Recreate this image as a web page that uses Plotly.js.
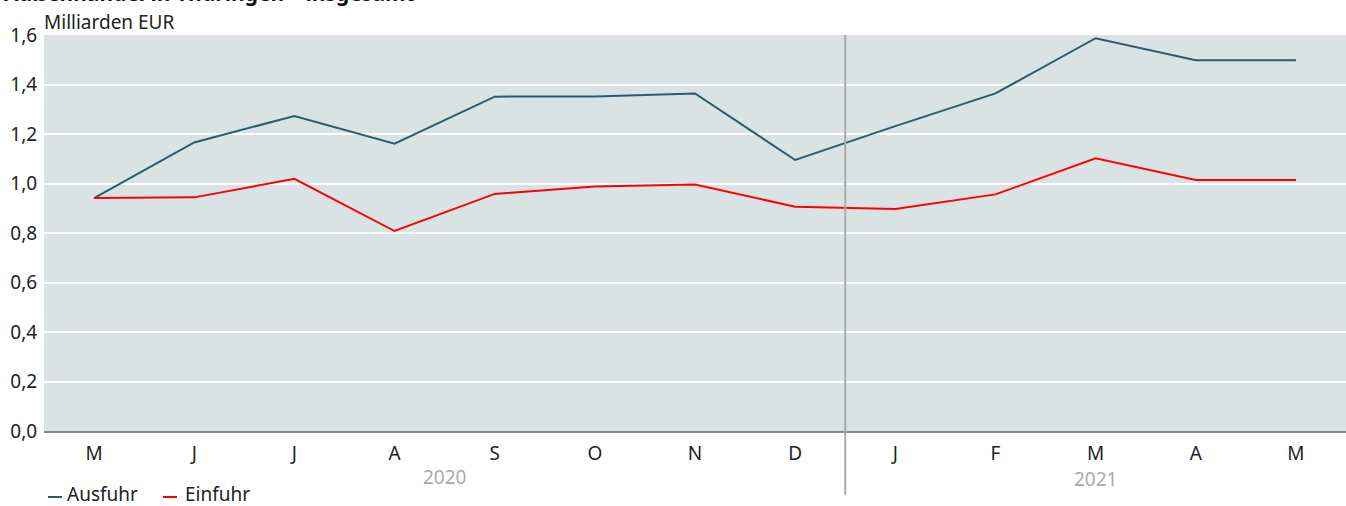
<!DOCTYPE html>
<html><head><meta charset="utf-8">
<script src="https://cdn.plot.ly/plotly-3.0.1.min.js"></script>
<style>html,body{margin:0;padding:0;background:#fff;}</style>
</head><body>
<div id="chart" style="width:1346px;height:506px;"></div>
<script>
const months = ["M","J","J","A","S","O","N","D","J","F","M","A","M"];
const ausfuhr = [0.941,1.166,1.273,1.161,1.351,1.352,1.364,1.095,1.232,1.364,1.587,1.498,1.498];
const einfuhr = [0.941,0.944,1.019,0.808,0.958,0.988,0.996,0.906,0.897,0.956,1.102,1.014,1.014];
const years = ["2020","2021"];
const yTicks = [0,0.2,0.4,0.6,0.8,1.0,1.2,1.4,1.6];
const xIdx = months.map((m,i)=>i);
const FONT = "Noto Sans, sans-serif";
const cAus = "#2d5a6e", cEin = "#ff0000";

const traces = [
 {x:xIdx, y:ausfuhr, type:"scatter", mode:"lines", name:"Ausfuhr", line:{color:cAus,width:2}, showlegend:false},
 {x:xIdx, y:einfuhr, type:"scatter", mode:"lines", name:"Einfuhr", line:{color:cEin,width:2}, showlegend:false}
];
const H = 396, T = 35, L = 44, W = 1302;
const py = p => 1 + (T - p)/H;
const px = p => (p - L)/W;
const FS = 19;
const layout = {
 width:1346, height:506,
 margin:{l:44, r:0, t:35, b:75},
 paper_bgcolor:"#ffffff", plot_bgcolor:"#d9e3e4",
 separators:",.",
 font:{family:FONT, size:FS, color:"#222"},
 xaxis:{range:[-0.5,12.5], tickvals:xIdx, ticktext:months, showgrid:false, zeroline:false,
   showline:true, linecolor:"#888", linewidth:2, ticks:"outside", ticklen:4, tickcolor:"rgba(0,0,0,0)", fixedrange:true, tickfont:{size:FS,color:"#222"}},
 yaxis:{range:[0,1.6], tickvals:yTicks, tickformat:".1f", gridcolor:"#ffffff", gridwidth:2, zeroline:false,
   showline:false, ticks:"outside", ticklen:2, tickcolor:"rgba(0,0,0,0)", tickfont:{size:FS,color:"#222"}},
 shapes:[
  {type:"line", xref:"x", yref:"paper", x0:7.5, x1:7.5, y0:py(495), y1:1, line:{color:"#aaaaaa", width:2}},
  {type:"line", xref:"paper", yref:"paper", x0:px(48), x1:px(62), y0:py(497), y1:py(497), line:{color:cAus, width:2}},
  {type:"line", xref:"paper", yref:"paper", x0:px(163), x1:px(177), y0:py(497), y1:py(497), line:{color:cEin, width:2}}
 ],
 annotations:[
  {text:"<b>Außenhandel in Thüringen – insgesamt</b>", xref:"paper", yref:"paper", x:0, xshift:-42, y:py(9), xanchor:"left", yanchor:"bottom", showarrow:false, font:{size:21,color:"#111"}},
  {text:"Milliarden EUR", xref:"paper", yref:"paper", x:0, xshift:-2, y:py(22), xanchor:"left", yanchor:"middle", showarrow:false, font:{size:FS,color:"#222"}},
  {text:years[0], xref:"x", yref:"paper", x:3.5, y:py(477), xanchor:"center", yanchor:"middle", showarrow:false, font:{size:FS,color:"#aaaaaa"}},
  {text:years[1], xref:"x", yref:"paper", x:10, y:py(479), xanchor:"center", yanchor:"middle", showarrow:false, font:{size:FS,color:"#aaaaaa"}},
  {text:"Ausfuhr", xref:"paper", yref:"paper", x:0, xshift:21, y:py(494), xanchor:"left", yanchor:"middle", showarrow:false, font:{size:FS,color:"#222"}},
  {text:"Einfuhr", xref:"paper", yref:"paper", x:0, xshift:139, y:py(494), xanchor:"left", yanchor:"middle", showarrow:false, font:{size:FS,color:"#222"}}
 ]
};
Plotly.newPlot("chart", traces, layout, {displayModeBar:false, staticPlot:true});
</script>
</body></html>
